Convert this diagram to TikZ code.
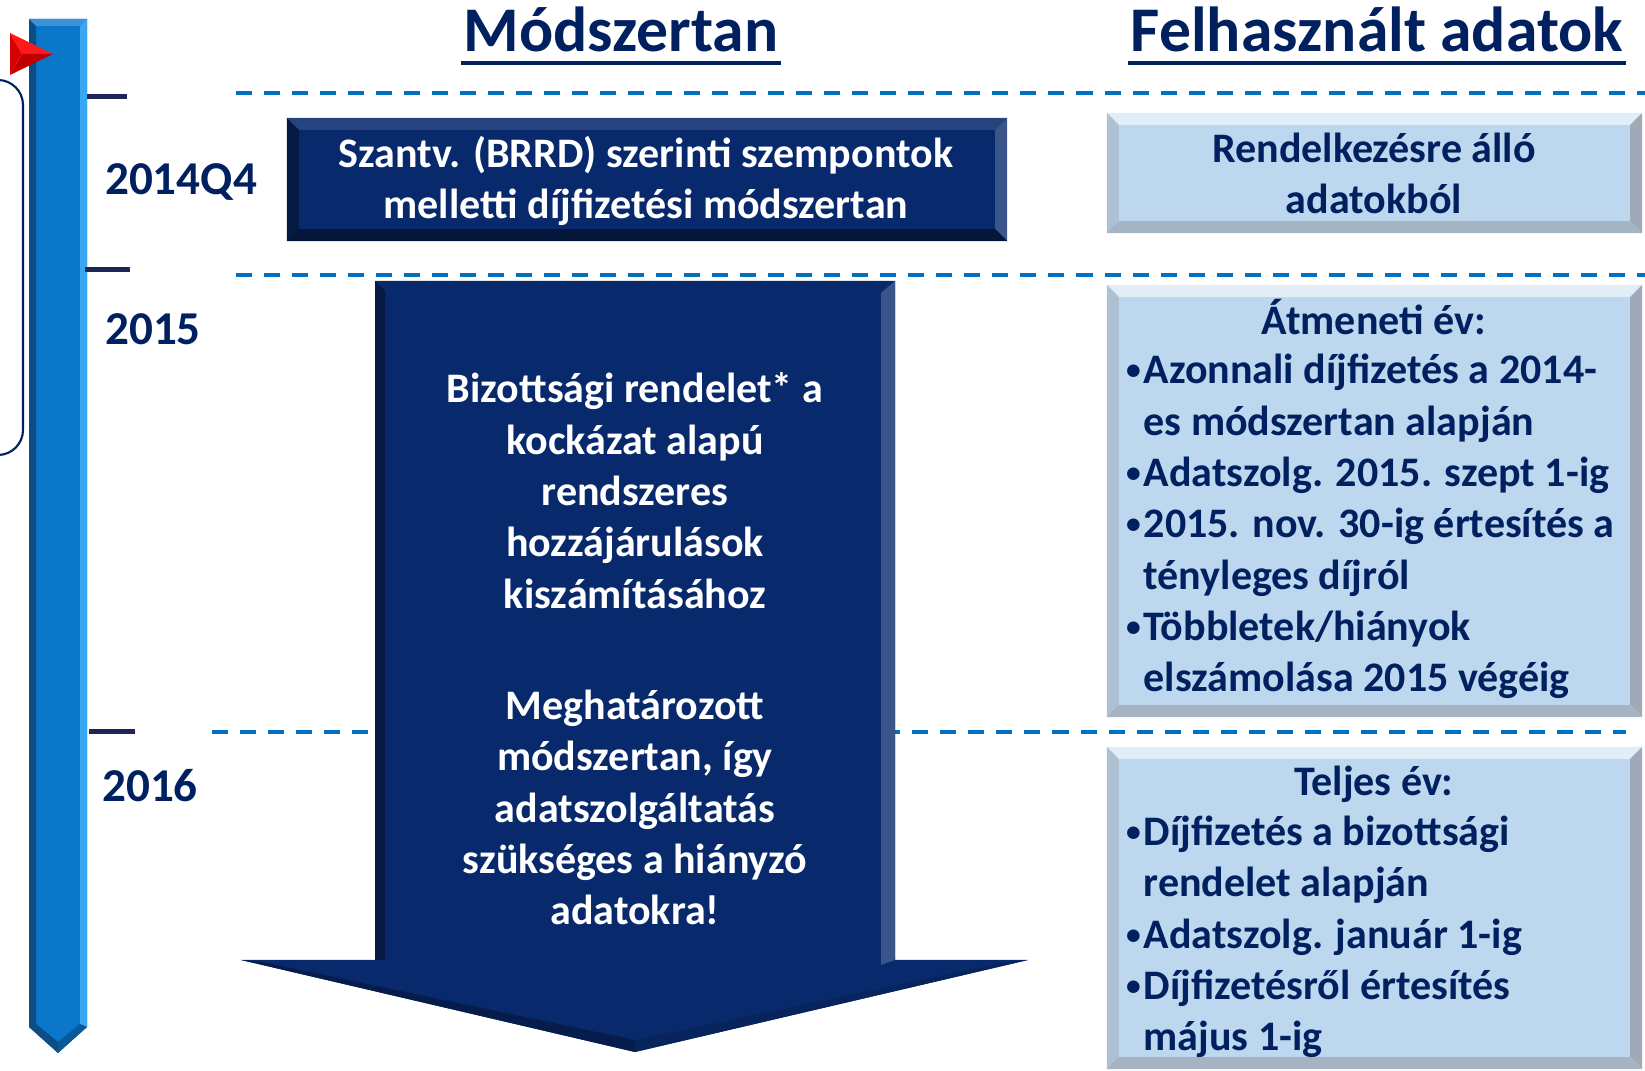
\documentclass[tikz,border=0pt]{standalone}
\usepackage{fontspec}
\setmainfont{Carlito}
\usetikzlibrary{positioning}

\definecolor{sotetkek}{HTML}{002060}
\definecolor{dobozkek}{HTML}{082A6C}
\definecolor{vilagoskek}{HTML}{BDD7EE}
\definecolor{szaggatott}{HTML}{0070C0}
\definecolor{jelolo}{HTML}{1F2557}
\definecolor{savkozep}{HTML}{0A77CA}
\definecolor{savsotet}{HTML}{0B4D85}
\definecolor{savvilagos}{HTML}{3AA7F5}

% betumeretek
\newcommand\torzs{\fontsize{11.95pt}{14.6pt}\selectfont\bfseries}
\newcommand\fejlec{\fontsize{18.1pt}{21pt}\selectfont\bfseries}
\newcommand\evszam{\fontsize{13.4pt}{16pt}\selectfont\bfseries}
% felsorolasjel
\newcommand\pont{\llap{\raisebox{1.2pt}{\fontsize{8.4pt}{9pt}\selectfont\textbullet}\kern0.03cm}}

% doboz domboritott szele: csomopont, felso, bal, jobb, also szin
\newcommand\keret[5]{%
  \fill[#2] (#1.north west) -- (#1.north east) -- ([shift={(-0.12cm,-0.12cm)}]#1.north east) -- ([shift={(0.12cm,-0.12cm)}]#1.north west) -- cycle;
  \fill[#3] (#1.north west) -- ([shift={(0.12cm,-0.12cm)}]#1.north west) -- ([shift={(0.12cm,0.12cm)}]#1.south west) -- (#1.south west) -- cycle;
  \fill[#4] (#1.north east) -- ([shift={(-0.12cm,-0.12cm)}]#1.north east) -- ([shift={(-0.12cm,0.12cm)}]#1.south east) -- (#1.south east) -- cycle;
  \fill[#5] (#1.south west) -- ([shift={(0.12cm,0.12cm)}]#1.south west) -- ([shift={(-0.12cm,0.12cm)}]#1.south east) -- (#1.south east) -- cycle;
}

\begin{document}
\begin{tikzpicture}[x=0.01cm, y=-0.01cm]
	\tikzset{doboz/.style={rectangle, inner sep=0, outer sep=0, fill=vilagoskek},
		sotetdoboz/.style={rectangle, inner sep=0, outer sep=0, fill=dobozkek},
		szoveg/.style={inner sep=0, font=\torzs, text=sotetkek},
		ev/.style={inner sep=0, font=\evszam, text=sotetkek},
		cim/.style={inner sep=0, font=\fejlec, text=sotetkek},
		vonal/.style={szaggatott, line width=0.04cm, dash pattern=on 0.16cm off 0.12cm},
		jel/.style={jelolo, line width=0.05cm}}
	\useasboundingbox (0,0) rectangle (1645,1071);

	% idovonal
	\draw[sotetkek, line width=0.6pt, rounded corners=0.25cm] (-40,80) rectangle (23,455);
	\fill[savkozep] (29,19) -- (87,19) -- (87,1027) -- (58,1053) -- (29,1027) -- cycle;
	\fill[savsotet] (29,19) -- (36,26) -- (36,1024) -- (29,1027) -- cycle;
	\fill[savvilagos] (87,19) -- (80,26) -- (80,1024) -- (87,1027) -- cycle;
	\fill[savkozep!80!white] (29,19) -- (87,19) -- (80,26) -- (36,26) -- cycle;
	\fill[savsotet] (29,1027) -- (58,1053) -- (58,1042) -- (36,1024) -- cycle;
	\fill[savkozep!75!black] (87,1027) -- (58,1053) -- (58,1042) -- (80,1024) -- cycle;
	\fill[red!90!white] (10,33) -- (53,54) -- (22,54) -- cycle;
	\fill[red!75!black] (10,75) -- (53,54) -- (22,54) -- cycle;
	\fill[red!85!black] (10,33) -- (22,54) -- (10,75) -- cycle;

	\draw[jel] (87,97) -- (127,97);
	\draw[jel] (85,270) -- (130,270);
	\draw[jel] (89,732) -- (135,732);

	\node[ev, anchor=base] (e2014) at (181,195) {2014Q4};
	\node[ev, anchor=base] (e2015) at (153,345) {2015};
	\node[ev, anchor=base] (e2016) at (150,802) {2016};

	% szaggatott elvalasztok
	\draw[vonal] (236,93) -- (1645,93);
	\draw[vonal] (236,275) -- (1645,275);
	\draw[vonal] (212,732) -- (1626,732);

	% fejlecek
	\node[cim, anchor=base] (modszer) at (621,52) {Módszertan};
	\node[cim, anchor=base] (adatok) at (1377,52) {Felhasznált adatok};
	\draw[sotetkek, line width=0.04cm] ([shift={(-0.02cm,-0.11cm)}]modszer.base west) -- ([shift={(0.02cm,-0.11cm)}]modszer.base east);
	\draw[sotetkek, line width=0.04cm] ([shift={(-0.02cm,-0.11cm)}]adatok.base west) -- ([shift={(0.02cm,-0.11cm)}]adatok.base east);

	% modszertan oszlop
	\node[sotetdoboz, minimum width=7.2cm, minimum height=1.23cm] (szantv) at (647,179.5) {};
	\keret{szantv}{dobozkek!88!white}{dobozkek!60!black}{dobozkek!80!white}{dobozkek!55!black}
	\node[szoveg, text=white, align=center, anchor=base] (szantvszoveg) at (646,219)
		{Szantv. (BRRD) szerinti szempontok\\melletti díjfizetési módszertan};

	\fill[dobozkek] (375,281) -- (895,281) -- (895,960) -- (1028,960) -- (635,1052) -- (241,960) -- (375,960) -- cycle;
	\fill[dobozkek!60!black] (375,281) -- (385,291) -- (385,960) -- (375,960) -- cycle;
	\fill[dobozkek!80!white] (895,281) -- (881,293) -- (881,965) -- (895,960) -- cycle;
	\fill[dobozkek!70!black] (241,960) -- (635,1052) -- (635,1040) -- (262,962) -- cycle;
	\fill[dobozkek!85!black] (1028,960) -- (635,1052) -- (635,1040) -- (1007,962) -- cycle;
	\node[szoveg, text=white, align=center, anchor=base] (nyilszoveg) at (635,925)
		{Bizottsági rendelet* a\\kockázat alapú\\rendszeres\\hozzájárulások\\kiszámításához\\[0.6cm]
		Meghatározott\\módszertan, így\\adatszolgáltatás\\szükséges a hiányzó\\adatokra!};

	% adatok oszlop
	\node[doboz, minimum width=5.35cm, minimum height=1.2cm] (dobozA) at (1374.5,173) {};
	\node[doboz, minimum width=5.35cm, minimum height=4.32cm] (dobozB) at (1374.5,501) {};
	\node[doboz, minimum width=5.35cm, minimum height=3.22cm] (dobozC) at (1374.5,908) {};
	\foreach \d in {dobozA, dobozB, dobozC} {
		\keret{\d}{vilagoskek!45!white}{vilagoskek!75!gray}{vilagoskek!50!gray}{vilagoskek!60!gray}
	}

	\node[szoveg, align=center, anchor=base] (szovegA) at (1374,214) {Rendelkezésre álló\\adatokból};

	\node[szoveg, anchor=base] (cimB) at (1374,335) {Átmeneti év:};
	\node[szoveg, align=left, anchor=base west] (listaB) at (1143,692)
		{\pont Azonnali díjfizetés a 2014-\\es módszertan alapján\\
		\pont Adatszolg. 2015. szept 1-ig\\
		\pont 2015. nov. 30-ig értesítés a\\tényleges díjról\\
		\pont Többletek/hiányok\\elszámolása 2015 végéig};

	\node[szoveg, anchor=base] (cimC) at (1374,796) {Teljes év:};
	\node[szoveg, align=left, anchor=base west] (listaC) at (1143,1051)
		{\pont Díjfizetés a bizottsági\\rendelet alapján\\
		\pont Adatszolg. január 1-ig\\
		\pont Díjfizetésről értesítés\\május 1-ig};
\end{tikzpicture}
\end{document}
